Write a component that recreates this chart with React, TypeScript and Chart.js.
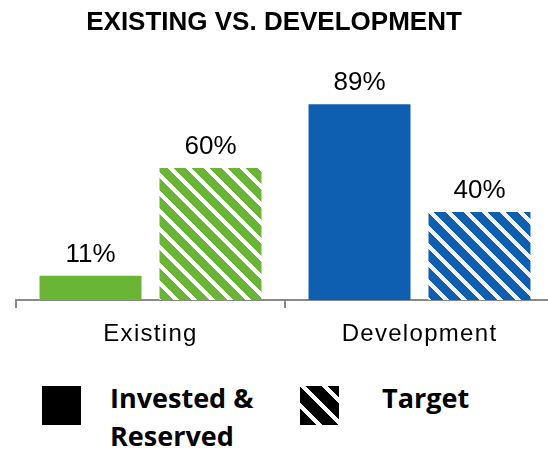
import React, { useEffect, useRef } from "react";
import { Chart, registerables } from "chart.js";

Chart.register(...registerables);

const TITLE = "EXISTING VS. DEVELOPMENT";
const categories = ["Existing", "Development"];
const investedValues = [11, 89];
const targetValues = [60, 40];
const seriesLabels = ["Invested & Reserved", "Target"];
const categoryColors = ["#6BB536", "#0E5FB1"];
const stripeLights = ["#FFFFFF", "#F2F2F2"];

function hexToRgb(hex: string) {
  const h = hex.replace("#", "");
  return [parseInt(h.slice(0, 2), 16), parseInt(h.slice(2, 4), 16), parseInt(h.slice(4, 6), 16)];
}

function stripeTile(color: string, light: string, period: number, gap: number) {
  const c = document.createElement("canvas");
  c.width = period;
  c.height = period;
  const g = c.getContext("2d")!;
  const img = g.createImageData(period, period);
  const a = hexToRgb(color);
  const b = hexToRgb(light);
  for (let y = 0; y < period; y++) {
    for (let x = 0; x < period; x++) {
      const k = (((x - y) % period) + period) % period;
      const col = k < gap ? b : a;
      const i = (y * period + x) * 4;
      img.data[i] = col[0];
      img.data[i + 1] = col[1];
      img.data[i + 2] = col[2];
      img.data[i + 3] = 255;
    }
  }
  g.putImageData(img, 0, 0);
  return c;
}

const valueLabels = {
  id: "valueLabels",
  afterDatasetsDraw(chart: any) {
    const ctx = chart.ctx;
    ctx.save();
    ctx.font = '26px "Liberation Sans", Arial, sans-serif';
    ctx.fillStyle = "#000";
    ctx.textAlign = "center";
    ctx.textBaseline = "alphabetic";
    chart.data.datasets.forEach((ds: any, i: number) => {
      chart.getDatasetMeta(i).data.forEach((bar: any, j: number) => {
        ctx.fillText(ds.data[j] + "%", bar.x, bar.y - 14);
      });
    });
    ctx.restore();
  },
};

// Title centred on the visible page (the canvas is a little wider than the page)
const pageTitle = {
  id: "pageTitle",
  afterDraw(chart: any, _args: any, opts: any) {
    const ctx = chart.ctx;
    ctx.save();
    ctx.font = 'bold 26px "Liberation Sans", Arial, sans-serif';
    ctx.fillStyle = "#000";
    ctx.textAlign = "center";
    ctx.textBaseline = "middle";
    ctx.fillText(opts.text, opts.centerX, 23);
    ctx.restore();
  },
};

const spacedTicks = {
  id: "spacedTicks",
  beforeDraw(chart: any) {
    const s = chart.scales.x;
    if (s && !s.__spaced) {
      const orig = s.drawLabels.bind(s);
      s.drawLabels = (area: any) => {
        const c = chart.ctx;
        c.save();
        c.letterSpacing = "1.3px";
        orig(area);
        c.restore();
      };
      s.__spaced = true;
    }
  },
};

function LegendIcon({ striped }: { striped: boolean }) {
  const ref = useRef<HTMLCanvasElement>(null);
  useEffect(() => {
    const c = ref.current!;
    const g = c.getContext("2d")!;
    if (striped) {
      g.fillStyle = g.createPattern(stripeTile("#000000", "#FFFFFF", 22, 6), "repeat")!;
    } else {
      g.fillStyle = "#000";
    }
    g.fillRect(0, 0, c.width, c.height);
  }, [striped]);
  return <canvas ref={ref} width={39} height={39} style={{ display: "block" }} />;
}

export default function App() {
  const canvasRef = useRef<HTMLCanvasElement>(null);

  useEffect(() => {
    const canvas = canvasRef.current!;
    const ctx = canvas.getContext("2d")!;
    const patterns = categoryColors.map((c, i) =>
      ctx.createPattern(stripeTile(c, stripeLights[i], 18, 6), "repeat")!
    );
    const chart = new Chart(canvas, {
      type: "bar",
      data: {
        labels: categories,
        datasets: [
          {
            label: seriesLabels[0],
            data: investedValues,
            backgroundColor: categoryColors,
            borderWidth: 0,
            categoryPercentage: 0.892,
            barPercentage: 0.85,
          },
          {
            label: seriesLabels[1],
            data: targetValues,
            backgroundColor: patterns as any,
            borderWidth: 0,
            categoryPercentage: 0.892,
            barPercentage: 0.85,
          },
        ],
      },
      options: {
        responsive: false,
        animation: false,
        layout: { padding: { left: 16, right: 6, top: 80, bottom: 0 } },
        plugins: {
          legend: { display: false },
          tooltip: { enabled: false },
          title: { display: false },
          pageTitle: { text: TITLE, centerX: 274 },
        } as any,
        scales: {
          x: {
            grid: {
              offset: true,
              drawOnChartArea: false,
              drawTicks: true,
              tickLength: 8,
              color: "#8A8A8A",
              lineWidth: 2,
            },
            border: { display: true, color: "#8A8A8A", width: 2 },
            ticks: {
              color: "#000",
              padding: 12,
              font: { family: '"Liberation Sans", Arial, sans-serif', size: 24 },
            },
            afterFit: (scale: any) => {
              scale.height = 70;
            },
          },
          y: {
            display: false,
            min: 0,
            max: 100,
          },
        },
      },
      plugins: [valueLabels, spacedTicks, pageTitle],
    });
    return () => chart.destroy();
  }, []);

  const textStyle: React.CSSProperties = {
    position: "absolute",
    fontFamily: '"Open Sans", sans-serif',
    fontWeight: 700,
    fontSize: 27,
    lineHeight: "38px",
    color: "#000",
  };

  return (
    <div
      style={{
        position: "fixed",
        left: 0,
        top: 0,
        width: 548,
        height: 450,
        overflow: "hidden",
        background: "#fff",
      }}
    >
      <canvas ref={canvasRef} width={560} height={370} style={{ position: "absolute", left: 0, top: 0 }} />
      <div style={{ position: "absolute", left: 42, top: 386 }}>
        <LegendIcon striped={false} />
      </div>
      <div style={{ ...textStyle, left: 110, top: 379, width: 175 }}>{seriesLabels[0]}</div>
      <div style={{ position: "absolute", left: 300, top: 386 }}>
        <LegendIcon striped={true} />
      </div>
      <div style={{ ...textStyle, left: 382, top: 379 }}>{seriesLabels[1]}</div>
    </div>
  );
}
